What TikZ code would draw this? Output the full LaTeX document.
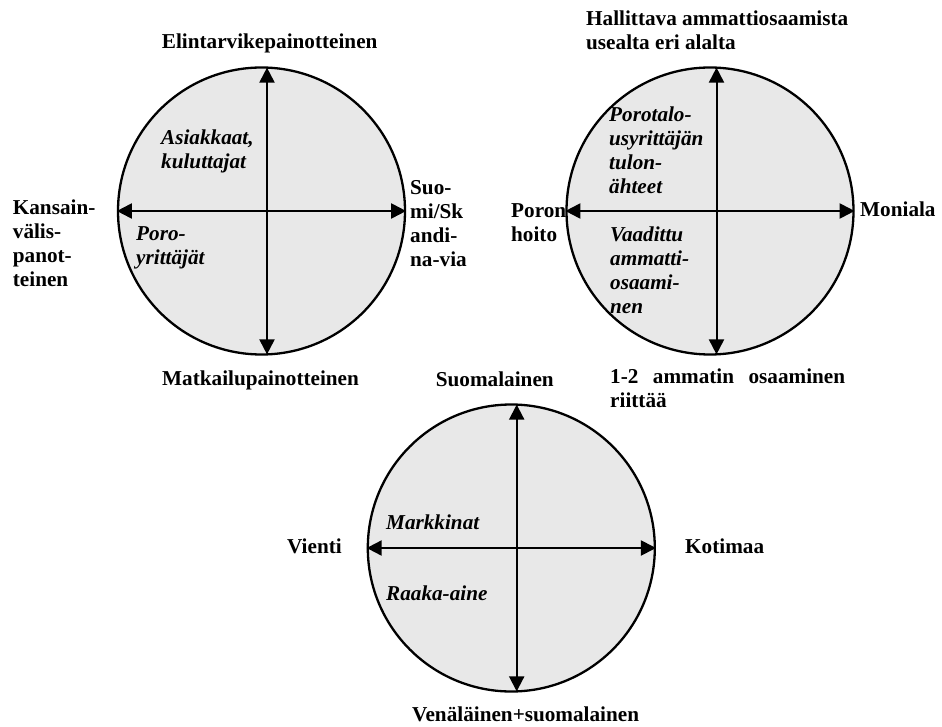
\documentclass[tikz,border=0pt]{standalone}
\usepackage{fontspec}
\setmainfont{Liberation Serif}
\usetikzlibrary{arrows.meta}
\definecolor{circfill}{RGB}{232,232,232}
\begin{document}
\begin{tikzpicture}[x=1pt,y=-1pt,
  every node/.style={inner sep=0pt, font=\fontsize{21.2}{24}\selectfont\bfseries},
  lab/.style={anchor=base west, align=left},
  ilab/.style={anchor=base west, align=left, font=\fontsize{21.2}{24}\selectfont\bfseries\itshape},
  disc/.style={circle, draw, line width=2.3pt, fill=circfill, minimum size=287pt, inner sep=0pt},
  axis/.style={line width=2pt, {Triangle[length=15pt,width=15pt]}-{Triangle[length=15pt,width=15pt]}}
]
\useasboundingbox (0,0) rectangle (942,727);

% circle 1
\node[disc] (c1) at (261.5,211) {};
\coordinate (v1t) at (267,67.6);
\coordinate (v1b) at (267,354.4);
\draw[axis] (c1.west) -- (c1.east);
\draw[axis] (v1t) -- (v1b);

% circle 2
\node[disc] (c2) at (710,211) {};
\coordinate (v2t) at (716.5,67.6);
\coordinate (v2b) at (716.5,354.4);
\draw[axis] (c2.west) -- (c2.east);
\draw[axis] (v2t) -- (v2b);

% circle 3
\node[disc] (c3) at (511.3,548) {};
\coordinate (v3t) at (516.7,404.6);
\coordinate (v3b) at (516.7,691.4);
\draw[axis] (c3.west) -- (c3.east);
\draw[axis] (v3t) -- (v3b);

% labels circle 1 (base anchor = baseline of last line)
\node[lab] (t1) at (161.7,49) {Elintarvikepainotteinen};
\node[lab] (b1) at (162,385) {Matkailupainotteinen};
\node[lab] (l1) at (12.7,287) {Kansain-\\välis-\\panot-\\teinen};
\node[lab] (r1) at (410,266.7) {Suo-\\mi/Sk\\andi-\\na-via};
\node[ilab] (i1a) at (161,169) {Asiakkaat,\\kuluttajat};
\node[ilab] (i1b) at (136,265) {Poro-\\yrittäjät};

% labels circle 2
\node[lab] (t2) at (586,50) {Hallittava ammattiosaamista\\usealta eri alalta};
\node[lab] (b2) at (610,407) {\makebox[235pt][s]{1-2\hfill ammatin\hfill osaaminen}\\riittää};
\node[lab] (l2) at (511,241.5) {Poron\\hoito};
\node[lab] (r2) at (860,217) {Moniala};
\node[ilab] (i2a) at (609,194) {Porotalo-\\usyrittäjän\\tulon-\\ähteet};
\node[ilab] (i2b) at (610,313) {Vaadittu\\ammatti-\\osaami-\\nen};

% labels circle 3
\node[lab] (t3) at (435.7,386) {Suomalainen};
\node[lab] (b3) at (412,721.7) {Venäläinen+suomalainen};
\node[lab] (l3) at (287,553) {Vienti};
\node[lab] (r3) at (685,553) {Kotimaa};
\node[ilab] (i3a) at (386,529) {Markkinat};
\node[ilab] (i3b) at (386,600.7) {Raaka-aine};
\end{tikzpicture}
\end{document}
